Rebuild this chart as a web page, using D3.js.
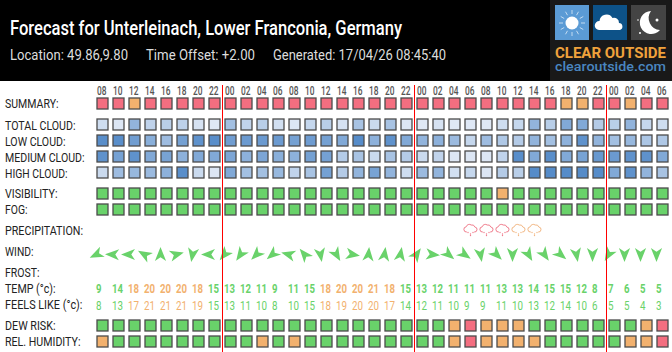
<!DOCTYPE html>
<html>
<head>
<meta charset="utf-8">
<title>Forecast for Unterleinach</title>
<script src="https://cdn.jsdelivr.net/npm/d3@7"></script>
<style>
    html, body { margin: 0; padding: 0; background: #fff; overflow: hidden; }
    svg { display: block; }
    text { font-family: Roboto, sans-serif; }
</style>
</head>
<body>
<div id="chart"></div>
<script>
// hours along the top
const hours = ["08","10","12","14","16","18","20","22",
    "00","02","04","06","08","10","12","14","16","18","20","22",
    "00","02","04","06","08","10","12","14","16","18","20","22",
    "00","02","04","06"];

// cloud cover in percent, estimated from the cell shade
const totalCloud = [20,12,55,28,32,30,15,10, 45,28,33,18,12,25,33,15,42,22,42,12, 10,15,10,10,10,20,25,55,33,65,65,35, 32,55,25,20];
const lowCloud = [88,88,75,60,48,72,85,88, 75,78,78,78,72,76,72,65,90,58,85,65, 55,58,50,25,48,38,35,55,45,58,85,55, 45,52,40,38];
const mediumCloud = [85,72,85,65,70,58,65,65, 68,58,68,60,58,72,72,35,42,22,42,35, 22,28,12,12,12,28,88,65,88,65,70,80, 78,85,85,65];
const highCloud = [22,48,52,50,58,88,22,12, 65,45,45,52,28,42,72,35,55,70,55,20, 50,55,18,25,12,35,33,90,90,90,90,90, 65,85,55,42];

// 0 good, 1 ok, 2 bad
const summary = [2,2,1,2,2,2,2,2, 2,2,2,2,2,2,2,2,2,2,2,2, 2,2,2,2,2,2,2,2,2,1,1,2, 2,1,2,2];
const visibility = [0,0,0,0,0,0,0,0, 0,0,0,0,0,0,0,0,0,0,0,0, 0,0,0,0,0,1,0,0,0,0,0,0, 0,0,0,0];
const fog = [0,0,0,0,0,0,0,0, 0,0,0,0,0,0,0,0,0,0,0,0, 0,0,0,0,0,0,0,0,0,0,0,0, 0,0,0,0];
const dewRisk = [0,0,0,0,0,0,0,0, 0,0,0,0,0,0,0,0,0,0,0,0, 0,0,1,2,1,1,1,0,0,0,0,0, 0,0,1,2];
const humidity = [1,0,0,0,0,0,0,0, 0,0,1,0,1,0,0,0,0,0,0,0, 0,0,1,2,1,1,1,1,0,0,0,0, 0,1,1,2];

// 0 none, 1 light, 2 heavier
const precipitation = [0,0,0,0,0,0,0,0, 0,0,0,0,0,0,0,0,0,0,0,0, 0,0,0,2,2,2,1,1,0,0,0,0, 0,0,0,0];

// bearing the arrow tip points at, degrees clockwise from up
const windDir = [245,272,270,300,0,75,190,270, 220,215,225,230,285,320,170,150,100,5,8,10, 35,95,130,125,170,135,180,150,145,130,170,180, 210,180,180,180];

const temp = [9,14,18,20,20,20,18,15, 13,12,11,9,11,15,18,20,20,21,18,15, 13,12,11,11,11,13,13,14,15,15,12,8, 7,6,5,5];
const feelsLike = [8,13,17,21,21,21,19,15, 13,11,10,8,10,15,18,19,20,20,17,14, 12,11,10,9,9,11,10,13,12,14,10,6, 5,5,4,3];

const dayStarts = [8, 20, 32];

const width = 672, height = 352;

const x = d3.scaleBand().domain(d3.range(hours.length)).range([96, 672]);
const cloudColor = d3.scaleLinear().domain([10, 90]).range(["#dfe8f5", "#568cc9"]);
const statusColor = d3.scaleOrdinal().domain([0, 1, 2]).range(["#69d26a", "#f2b16e", "#f46e80"]);
const tempColor = v => v > 15 ? "#f2b16e" : "#69d26a";

const svg = d3.select("#chart").append("svg")
    .attr("width", width)
    .attr("height", height)
    .attr("viewBox", [0, 0, width, height]);

// the installed Roboto is wider than the original, so squeeze to measured widths
function label(g, str, px, py, w, size, fill, weight) {
    return g.append("text")
        .attr("x", px)
        .attr("y", py)
        .attr("font-size", size)
        .attr("font-weight", weight || 400)
        .attr("fill", fill)
        .attr("textLength", w)
        .attr("lengthAdjust", "spacingAndGlyphs")
        .text(str);
}

// header
svg.append("rect").attr("width", width).attr("height", 81).attr("fill", "#000");
label(svg, "Forecast for Unterleinach, Lower Franconia, Germany", 10, 35, 392, 20.5, "#fff", 500);
label(svg, "Location: 49.86,9.80", 10, 60, 118, 15.5, "#ddd");
label(svg, "Time Offset: +2.00", 146, 60, 109, 15.5, "#ddd");
label(svg, "Generated: 17/04/26 08:45:40", 273, 60, 173, 15.5, "#ddd");

// logo
const logo = svg.append("g");
logo.append("rect").attr("x", 550).attr("width", 122).attr("height", 81).attr("fill", "#191919");
logo.append("rect").attr("x", 555).attr("y", 5).attr("width", 34).attr("height", 35).attr("fill", "#5b9bd5");
logo.append("rect").attr("x", 593).attr("y", 5).attr("width", 34).attr("height", 35).attr("fill", "#0d5288");
logo.append("rect").attr("x", 631).attr("y", 5).attr("width", 35).attr("height", 35).attr("fill", "#444");
logo.append("circle").attr("cx", 572).attr("cy", 23).attr("r", 6.5).attr("fill", "#fff");
d3.range(12).forEach(i => {
    const a = i * Math.PI / 6;
    logo.append("line")
        .attr("x1", 572 + 9 * Math.cos(a)).attr("y1", 23 + 9 * Math.sin(a))
        .attr("x2", 572 + 13 * Math.cos(a)).attr("y2", 23 + 13 * Math.sin(a))
        .attr("stroke", "#dcebf8").attr("stroke-width", 0.8);
});
logo.append("path")
    .attr("d", "M599 30a4.5 4.5 0 0 1 .5-9a7 7 0 0 1 13-3a5 5 0 0 1 6.5 5a3.6 3.6 0 0 1 1 7z")
    .attr("fill", "#fff");
logo.append("path")
    .attr("d", "M651 11a11.5 11.5 0 1 0 9 19a12 12 0 0 1-9-19z")
    .attr("fill", "#fff");
[[657, 20, 1.5], [638, 20, 0.8], [640, 33, 1]].forEach(d => {
    logo.append("circle").attr("cx", d[0]).attr("cy", d[1]).attr("r", d[2]).attr("fill", "#fff");
});
label(logo, "CLEAR OUTSIDE", 555, 58, 111, 15, "#f0a23c", 700);
label(logo, "clearoutside.com", 555, 71, 111, 13, "#4a86c0", 500);

// row labels
const rowLabels = [
    ["SUMMARY:", 108, 53.5], ["TOTAL CLOUD:", 130, 70.5], ["LOW CLOUD:", 146, 60.5],
    ["MEDIUM CLOUD:", 162, 79.5], ["HIGH CLOUD:", 178, 62.5], ["VISIBILITY:", 198, 52.5],
    ["FOG:", 214, 22.5], ["PRECIPITATION:", 235, 78], ["WIND:", 256, 28.5],
    ["FROST:", 277, 34.5], ["TEMP (°c):", 293, 50.5], ["FEELS LIKE (°c):", 309, 77.5],
    ["DEW RISK:", 330, 50.5], ["REL. HUMIDITY:", 346, 75.5]
];
rowLabels.forEach(d => label(svg, d[0], 5, d[1], d[2], 13.5, "#222"));

// hour ticks
hours.forEach((h, i) => label(svg, h, x(i) + 1, 94.5, 9.5, 13, "#555", 500));

// square cells
function cells(values, y, color) {
    svg.append("g").selectAll("rect")
        .data(values)
        .join("rect")
        .attr("x", (d, i) => x(i) + 1)
        .attr("y", y + 1)
        .attr("width", 11)
        .attr("height", 11)
        .attr("fill", color)
        .attr("stroke", "#4c4c4c")
        .attr("stroke-width", 1.3);
}

cells(summary, 97, statusColor);
cells(totalCloud, 118, cloudColor);
cells(lowCloud, 134, cloudColor);
cells(mediumCloud, 150, cloudColor);
cells(highCloud, 166, cloudColor);
cells(visibility, 187, statusColor);
cells(fog, 203, statusColor);
cells(dewRisk, 319, statusColor);
cells(humidity, 335, statusColor);

// precipitation: outlined cloud with drops below
const rain = svg.append("g").selectAll("g")
    .data(precipitation.map((v, i) => ({v, i})).filter(d => d.v > 0))
    .join("g")
    .attr("transform", d => `translate(${x(d.i)},223)`)
    .attr("stroke", d => d.v == 2 ? "#f07c8c" : "#f2b784")
    .attr("fill", d => d.v == 2 ? "#f07c8c" : "#f2b784");
rain.append("path")
    .attr("d", "M2.8 9a2.6 2.6 0 0 1-.6-5.2a3.2 3.2 0 0 1 5-1.8a3 3 0 0 1 3.6 2a2.5 2.5 0 0 1-.6 5")
    .attr("fill", "none")
    .attr("stroke-width", 1);
[[4, 9.5], [6.5, 11], [9, 9.5], [6.5, 12.5]].forEach(p => {
    rain.append("circle").attr("cx", p[0]).attr("cy", p[1]).attr("r", 0.7).attr("stroke", "none");
});

// wind arrows
svg.append("g").selectAll("path")
    .data(windDir)
    .join("path")
    .attr("d", "M0,-7.5 L5.6,6.5 L0,2.8 L-5.6,6.5 Z")
    .attr("transform", (d, i) => `translate(${x(i) + 0.5},254.5) rotate(${d})`)
    .attr("fill", "#69d26a");

// temperatures, left aligned in the column
temp.forEach((v, i) => {
    label(svg, v, x(i), 293, v > 9 ? 11 : 5.5, 13.5, tempColor(v), 700);
});
feelsLike.forEach((v, i) => {
    label(svg, v, x(i), 309.5, v > 9 ? 11 : 5.5, 13.5, tempColor(v));
});

// midnight markers
svg.append("g").selectAll("line")
    .data(dayStarts)
    .join("line")
    .attr("x1", d => x(d) - 1.5)
    .attr("x2", d => x(d) - 1.5)
    .attr("y1", 85)
    .attr("y2", height)
    .attr("stroke", "#f00")
    .attr("stroke-width", 1);
</script>
</body>
</html>
